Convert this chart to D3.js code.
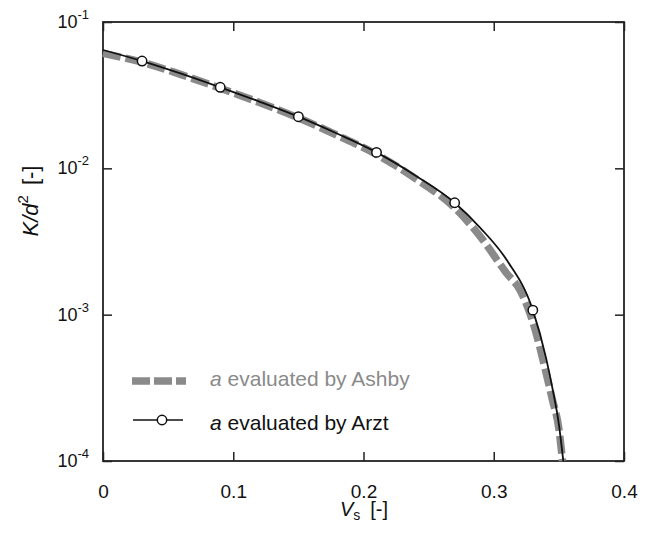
<!DOCTYPE html>
<html>
<head>
<meta charset="utf-8">
<script src="https://cdn.jsdelivr.net/npm/d3@7"></script>
<style>
  body { margin: 0; background: #fff; }
  svg text { font-family: "Liberation Sans", Arial, Helvetica, sans-serif; }
</style>
</head>
<body>
<svg id="chart" width="645" height="541"></svg>
<script>
// Ashby curve (grey dashed)
var ashbyX = [0, 0.03, 0.06, 0.09, 0.12, 0.15, 0.18, 0.21, 0.24, 0.27, 0.29, 0.31, 0.32, 0.33, 0.34, 0.345, 0.35, 0.3528];
var ashbyY = [0.0610, 0.0531, 0.0437, 0.0353, 0.0282, 0.0221, 0.0168, 0.01245, 0.00851, 0.00537, 0.00339, 0.00191, 0.00148, 0.000891, 0.000407, 0.000263, 0.000166, 0.0001];

// Arzt curve (black line)
var arztX = [0, 0.03, 0.06, 0.09, 0.12, 0.15, 0.18, 0.21, 0.24, 0.27, 0.29, 0.31, 0.33, 0.34, 0.345, 0.35, 0.3534];
var arztY = [0.0644, 0.0541, 0.0444, 0.0358, 0.0286, 0.02254, 0.01722, 0.01285, 0.00891, 0.00582, 0.00389, 0.00236, 0.001074, 0.000513, 0.000316, 0.000178, 0.0001];

// Arzt markers
var markX = [0.03, 0.09, 0.15, 0.21, 0.27, 0.33];
var markY = [0.0541, 0.0358, 0.02254, 0.01285, 0.00582, 0.001074];

var xTicks = [0, 0.1, 0.2, 0.3, 0.4];
var xTickLabels = ["0", "0.1", "0.2", "0.3", "0.4"];
var yTicks = [1e-1, 1e-2, 1e-3, 1e-4];
var yTickExp = ["-1", "-2", "-3", "-4"];

var legendLabels = ["evaluated by Ashby", "evaluated by Arzt"];

var pLeft = 103, pRight = 624, pTop = 22, pBottom = 461;

var svg = d3.select("#chart");

var x = d3.scaleLinear().domain([0, 0.4]).range([pLeft, pRight]);
var y = d3.scaleLog().domain([1e-4, 1e-1]).range([pBottom, pTop]);

var axisColor = "#222";

// axes, ticks inward
var gBottom = svg.append("g").attr("transform", "translate(0," + pBottom + ")")
  .call(d3.axisBottom(x).tickValues(xTicks).tickSizeInner(-9).tickSizeOuter(0)
    .tickFormat(function(d, i){ return xTickLabels[i]; }));
var gTop = svg.append("g").attr("transform", "translate(0," + pTop + ")")
  .call(d3.axisTop(x).tickValues(xTicks).tickSizeInner(-9).tickSizeOuter(0).tickFormat(""));
var gLeft = svg.append("g").attr("transform", "translate(" + pLeft + ",0)")
  .call(d3.axisLeft(y).tickValues(yTicks).tickSizeInner(-9).tickSizeOuter(0).tickFormat(""));
var gRight = svg.append("g").attr("transform", "translate(" + pRight + ",0)")
  .call(d3.axisRight(y).tickValues(yTicks).tickSizeInner(-9).tickSizeOuter(0).tickFormat(""));

[gBottom, gTop, gLeft, gRight].forEach(function(g){
  g.select(".domain").remove();
  g.selectAll(".tick line").attr("stroke", axisColor).attr("stroke-width", 1.5);
});

gBottom.selectAll(".tick text")
  .attr("y", 0).attr("dy", 0)
  .attr("transform", "translate(0,37)")
  .attr("font-size", 19).attr("fill", "#111");

// y tick labels with superscripts
svg.append("g").selectAll("text")
  .data(yTicks)
  .enter().append("text")
  .attr("x", 89)
  .attr("y", function(d){ return y(d) + 6; })
  .attr("text-anchor", "end")
  .attr("fill", "#111")
  .each(function(d, i){
    var t = d3.select(this);
    t.append("tspan").attr("font-size", 18).text("10");
    t.append("tspan").attr("font-size", 13).attr("dy", -9).text(yTickExp[i]);
  });

// frame
svg.append("rect")
  .attr("x", pLeft).attr("y", pTop)
  .attr("width", pRight - pLeft).attr("height", pBottom - pTop)
  .attr("fill", "none").attr("stroke", axisColor).attr("stroke-width", 1.8);

// curves
var line = d3.line()
  .x(function(d){ return x(d[0]); })
  .y(function(d){ return y(d[1]); })
  .curve(d3.curveMonotoneX);

var ashbyData = ashbyX.map(function(v, i){ return [v, ashbyY[i]]; });
var arztData = arztX.map(function(v, i){ return [v, arztY[i]]; });
var markData = markX.map(function(v, i){ return [v, markY[i]]; });

svg.append("path")
  .datum(ashbyData)
  .attr("d", line)
  .attr("fill", "none")
  .attr("stroke", "#8a8a8a")
  .attr("stroke-width", 7.5)
  .attr("stroke-dasharray", "18,5");

svg.append("path")
  .datum(arztData)
  .attr("d", line)
  .attr("fill", "none")
  .attr("stroke", "#111")
  .attr("stroke-width", 1.8);

svg.append("g").selectAll("circle")
  .data(markData)
  .enter().append("circle")
  .attr("cx", function(d){ return x(d[0]); })
  .attr("cy", function(d){ return y(d[1]); })
  .attr("r", 4.7)
  .attr("fill", "#fff")
  .attr("stroke", "#111")
  .attr("stroke-width", 1.5);

// legend
var leg = svg.append("g");
leg.append("line")
  .attr("x1", 132).attr("x2", 186).attr("y1", 381).attr("y2", 381)
  .attr("stroke", "#8a8a8a").attr("stroke-width", 7.5).attr("stroke-dasharray", "18,4");
leg.append("line")
  .attr("x1", 133).attr("x2", 183).attr("y1", 420).attr("y2", 420)
  .attr("stroke", "#111").attr("stroke-width", 1.5);
leg.append("circle")
  .attr("cx", 162).attr("cy", 420).attr("r", 4.7)
  .attr("fill", "#fff").attr("stroke", "#111").attr("stroke-width", 1.5);

var legColors = ["#8a8a8a", "#111"];
var legY = [386, 430];
legendLabels.forEach(function(lbl, i){
  var t = leg.append("text").attr("x", 210).attr("y", legY[i])
    .attr("font-size", 21).attr("fill", legColors[i]);
  t.append("tspan").attr("font-style", "italic").text("a");
  t.append("tspan").text(" " + lbl);
});

// axis titles
var xt = svg.append("text")
  .attr("x", 364).attr("y", 516)
  .attr("text-anchor", "middle").attr("font-size", 20).attr("fill", "#111");
xt.append("tspan").attr("font-style", "italic").text("V");
xt.append("tspan").attr("font-size", 14).attr("dy", 4).text("s");
xt.append("tspan").attr("dy", -4).attr("dx", 10).text("[-]");

var yt = svg.append("text")
  .attr("transform", "translate(38,201) rotate(-90)")
  .attr("text-anchor", "middle").attr("font-size", 22).attr("fill", "#111");
yt.append("tspan").attr("font-style", "italic").text("K/d");
yt.append("tspan").attr("font-size", 15).attr("dy", -10).text("2");
yt.append("tspan").attr("dy", 10).attr("dx", 10).text("[-]");
</script>
</body>
</html>
